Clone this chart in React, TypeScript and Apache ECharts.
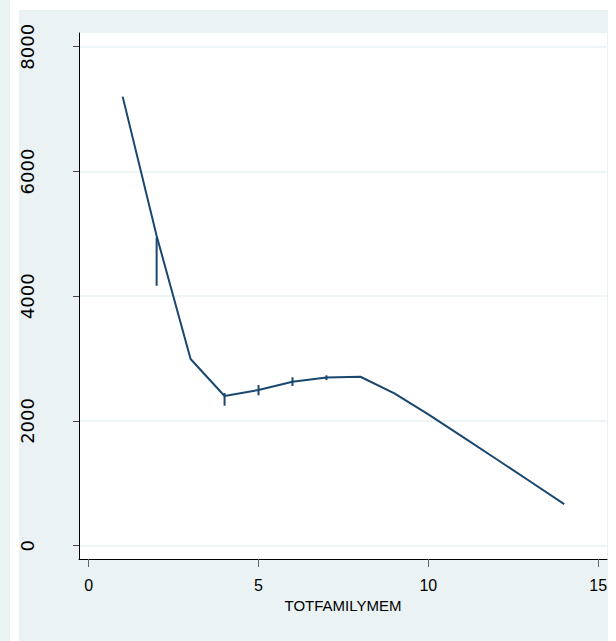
import React, { useEffect, useRef } from "react";
import * as echarts from "echarts";

const xValues = [1, 2, 3, 4, 5, 6, 7, 8, 9, 10, 11, 12, 13, 14];
const meanValues = [7200, 4970, 2993, 2400, 2496, 2629, 2697, 2709, 2443, 2105, 1750, 1390, 1030, 668];

const ciX = [2, 4, 5, 6, 7];
const ciLow = [4168, 2245, 2411, 2561, 2656];
const ciHigh = [4940, 2448, 2576, 2700, 2732];

const yTicks = [0, 2000, 4000, 6000, 8000];
const xTicks = [0, 5, 10, 15];

const BG = "#EAF2F3";
const NAVY = "#1a476f";

export default function App() {
  const ref = useRef<HTMLDivElement>(null);

  useEffect(() => {
    document.body.style.margin = "0";
    const chart = echarts.init(ref.current!, null, { renderer: "svg" });
    const ciData = ciX.map((x, i) => [x, ciLow[i], ciHigh[i]]);
    chart.setOption({
      animation: false,
      backgroundColor: "#ffffff",
      graphic: [
        { type: "rect", z: -10, silent: true, shape: { x: 0, y: 0, width: 10, height: 641 }, style: { fill: BG } },
        { type: "rect", z: -10, silent: true, shape: { x: 19, y: 10, width: 589, height: 631 }, style: { fill: BG } },
      ],
      grid: {
        left: 79,
        top: 33,
        right: 9,
        bottom: 82,
        show: true,
        backgroundColor: "#ffffff",
        borderWidth: 0,
        containLabel: false,
      },
      xAxis: {
        type: "value",
        min: -0.2855,
        max: 15.26,
        name: "TOTFAMILYMEM",
        nameLocation: "middle",
        nameGap: 38,
        nameTextStyle: { fontFamily: "'Liberation Sans', Arial, sans-serif", fontSize: 15, color: "#000" },
        axisLine: { show: true, onZero: false, lineStyle: { color: "#000", width: 1 } },
        axisTick: { show: true, customValues: xTicks, length: 8, lineStyle: { color: "#666", width: 1 } },
        axisLabel: {
          customValues: xTicks,
          margin: 18,
          fontFamily: "'Liberation Sans', Arial, sans-serif",
          fontSize: 16,
          color: "#000",
          formatter: (v: number) => String(v),
        },
        splitLine: { show: false },
      },
      yAxis: {
        type: "value",
        min: -213,
        max: 8220,
        axisLine: { show: true, onZero: false, lineStyle: { color: "#000", width: 1 } },
        axisTick: { show: true, customValues: yTicks, length: 6, lineStyle: { color: "#444", width: 1 } },
        axisLabel: {
          customValues: yTicks,
          rotate: 90,
          margin: 43,
          fontFamily: "'DejaVu Sans', sans-serif",
          fontSize: 18,
          color: "#000",
          formatter: (v: number) => String(v),
        },
        splitLine: { show: true, lineStyle: { color: BG, width: 1.5 } },
      },
      series: [
        {
          type: "line",
          data: xValues.map((x, i) => [x, meanValues[i]]),
          showSymbol: false,
          lineStyle: { color: NAVY, width: 2 },
          z: 3,
        },
        {
          type: "custom",
          data: ciData,
          z: 4,
          renderItem: (params: any, api: any) => {
            const x = api.value(0);
            const p1 = api.coord([x, api.value(1)]);
            const p2 = api.coord([x, api.value(2)]);
            return {
              type: "line",
              shape: { x1: p1[0], y1: p1[1], x2: p2[0], y2: p2[1] },
              style: { stroke: NAVY, lineWidth: 2 },
            };
          },
        },
      ],
    });
    return () => chart.dispose();
  }, []);

  return <div ref={ref} style={{ position: "absolute", left: 0, top: 0, width: 616, height: 641 }} />;
}
